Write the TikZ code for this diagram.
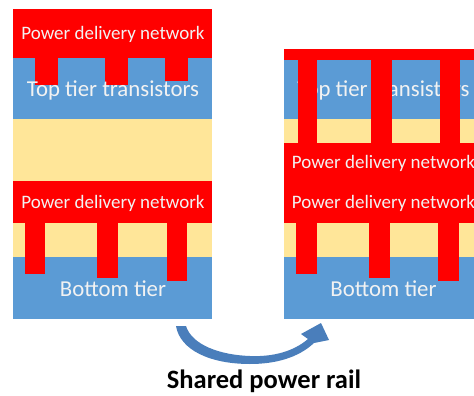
\documentclass[tikz,border=0pt]{standalone}
\usepackage{fontspec}
\setmainfont{Carlito}
\usepackage{tikz}

\definecolor{pdnred}{HTML}{FF0000}
\definecolor{tierblue}{HTML}{5B9BD5}
\definecolor{bondtan}{HTML}{FFE699}
\definecolor{arrowblue}{HTML}{4A7EBB}
\definecolor{lbltext}{HTML}{F2F2F2}

\tikzset{
  pdnlbl/.style={text=lbltext,inner sep=0pt,font=\fontsize{19}{19}\selectfont},
  tierlbl/.style={text=lbltext,inner sep=0pt,font=\fontsize{22.8}{22.8}\selectfont},
}

\begin{document}
\begin{tikzpicture}[x=1pt,y=-1pt]
		\useasboundingbox (0,0) rectangle (474,396);

		% left stack: layers
		\fill[pdnred] (13,9) rectangle (212,58);
		\fill[tierblue] (13,58) rectangle (212,119);
		\fill[bondtan] (13,119) rectangle (212,181);
		\fill[pdnred] (13,181) rectangle (212,223);
		\fill[bondtan] (13,223) rectangle (212,257);
		\fill[tierblue] (13,257) rectangle (212,319);

		% left stack: top tabs and bottom pillars
		\foreach \xa/\xb/\yb in {35/58/85,105/128/85,165/188/81}
			\fill[pdnred] (\xa,58) rectangle (\xb,\yb);
		\foreach \xa/\xb/\yb in {25/45/274,97/118/278,167/187/281}
			\fill[pdnred] (\xa,223) rectangle (\xb,\yb);

		\node[pdnlbl] (lpdntop) at (113,34) {Power delivery network};
		\node[tierlbl] (ltop) at (113,90) {Top tier transistors};
		\node[pdnlbl] (lpdnbot) at (113,203) {Power delivery network};
		\node[tierlbl] (lbot) at (113,289) {Bottom tier};

		% right stack, cut at the page edge
		\begin{scope}
		\clip (284,0) rectangle (474,396);
		\fill[tierblue] (284,60) rectangle (483,119);
		\fill[bondtan] (284,119) rectangle (483,143);
		\fill[bondtan] (284,223) rectangle (483,257);
		\fill[tierblue] (284,257) rectangle (483,319);
		\node[tierlbl] (rtop) at (383.5,90) {Top tier transistors};

		% shared rail
		\fill[pdnred] (284,49) rectangle (483,60);
		\foreach \xa/\xb in {298/317,371/392,440/460}
			\fill[pdnred] (\xa,49) rectangle (\xb,143);
		\fill[pdnred] (284,143) rectangle (483,223);
		\foreach \xa/\xb/\yb in {296/317/274,369/390/278,438/459/281}
			\fill[pdnred] (\xa,223) rectangle (\xb,\yb);

		\node[pdnlbl] (rpdntop) at (383.5,163) {Power delivery network};
		\node[pdnlbl] (rpdnbot) at (383.5,203) {Power delivery network};
		\node[tierlbl] (rbot) at (383.5,289) {Bottom tier};
		\end{scope}

		% curved arrow
		\fill[arrowblue] (176,326) -- (186,326)
			.. controls (192,345) and (220,355) .. (250,356)
			.. controls (274,357) and (294,351) .. (308,339)
			-- (301,334) -- (321,323) -- (329,340) -- (314,343)
			.. controls (298,358) and (275,364) .. (250,364)
			.. controls (210,364) and (180,350) .. (176,326) -- cycle;

		\node[font=\bfseries\fontsize{26.5}{26.5}\selectfont,inner sep=0pt] (rail) at (264,381) {Shared power rail};
	\end{tikzpicture}
\end{document}
